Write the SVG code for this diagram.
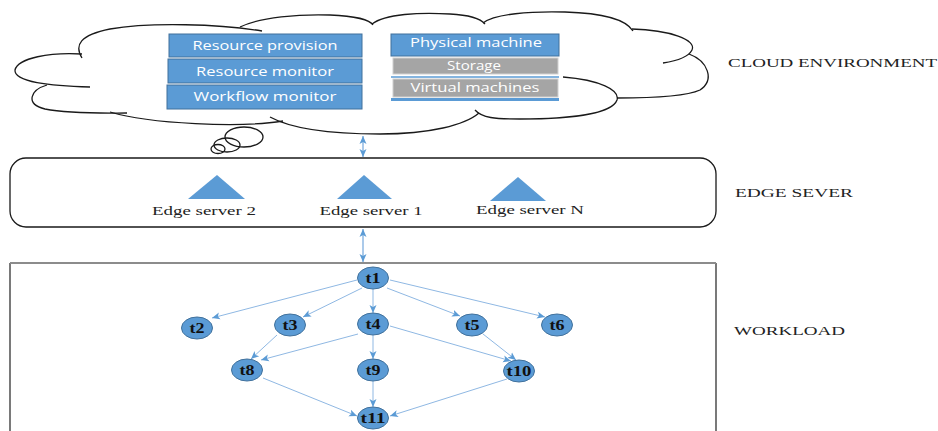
<svg xmlns="http://www.w3.org/2000/svg" width="938" height="431" viewBox="0 0 938 431">
<style>
.cloud{fill:none;stroke:#1a1a1a;stroke-width:1.3}
.box{fill:#5b9bd5;stroke:#41719c;stroke-width:1}
.gbox{fill:#a5a5a5;stroke:#d0d0d0;stroke-width:1}
.bt{font-family:"Open Sans","Liberation Sans",sans-serif;font-size:12.5px;fill:#ffffff;text-anchor:middle}
.lbl{font-family:"Liberation Serif","Times New Roman",serif;font-size:13px;fill:#222;text-anchor:middle}
.side{font-family:"Liberation Serif","Times New Roman",serif;font-size:13px;fill:#222}
.tri{fill:#5b9bd5}
.node{fill:#5b9bd5;stroke:#41719c;stroke-width:1}
.nt{font-family:"Liberation Serif","Times New Roman",serif;font-size:14.5px;font-weight:bold;fill:#111;text-anchor:middle}
.edge{stroke:#8fb8e3;stroke-width:1;fill:none;marker-end:url(#ah)}
.dbl{stroke:#8fb8e3;stroke-width:1.5;fill:none;marker-start:url(#ahs);marker-end:url(#ah)}
</style>
<defs>
<marker id="ah" markerUnits="userSpaceOnUse" markerWidth="9" markerHeight="8" refX="8" refY="4" orient="auto">
<path d="M0,0.5 L8,4 L0,7.5 L2,4 z" fill="#5b9bd5"/>
</marker>
<marker id="ahs" markerUnits="userSpaceOnUse" markerWidth="9" markerHeight="8" refX="0" refY="4" orient="auto">
<path d="M8,0.5 L0,4 L8,7.5 L6,4 z" fill="#5b9bd5"/>
</marker>
</defs>
<g id="cloud">
<path class="cloud" d="M82,58 C74,45 80,35 110,29 C150,22 220,24 262,31"/>
<path class="cloud" d="M240,27 C260,17 300,14 330,15 C355,16 370,20 373,25"/>
<path class="cloud" d="M372,24 C385,14 420,12 450,14 C470,15 480,18 485,24"/>
<path class="cloud" d="M483,23 C495,14 530,11 565,12 C600,13 625,18 633,31"/>
<path class="cloud" d="M632,29 C670,30 697,40 692,50 C688,58 676,61 663,63"/>
<path class="cloud" d="M689,54 C708,61 715,80 700,90 C685,97 650,98 617,98"/>
<path class="cloud" d="M563,77 C600,80 620,90 617,100 C612,114 570,119 520,119 C495,119 482,118 475,110"/>
<path class="cloud" d="M479,113 C465,125 430,134 380,134 C330,134 290,128 270,117"/>
<path class="cloud" d="M283,121 C240,128 150,124 110,112"/>
<path class="cloud" d="M47,85 C30,90 25,104 45,109 C70,114 105,113 127,113"/>
<path class="cloud" d="M82,54 C50,52 18,58 15,70 C14,82 50,86 90,87"/>
<ellipse class="cloud" cx="244" cy="137" rx="19" ry="10"/>
<ellipse class="cloud" cx="227" cy="145" rx="13" ry="7"/>
<ellipse class="cloud" cx="218" cy="149" rx="7" ry="4.5"/>
</g>
<g id="resource-provision">
<rect class="box" x="169" y="34" width="193" height="23"/>
<text class="bt" x="265" y="50" textLength="145" lengthAdjust="spacingAndGlyphs">Resource provision</text>
</g>
<g id="resource-monitor">
<rect class="box" x="168" y="59" width="194" height="24"/>
<text class="bt" x="265" y="76" textLength="138" lengthAdjust="spacingAndGlyphs">Resource monitor</text>
</g>
<g id="workflow-monitor">
<rect class="box" x="167" y="85" width="195" height="24"/>
<text class="bt" x="265" y="101" textLength="143" lengthAdjust="spacingAndGlyphs">Workflow monitor</text>
</g>
<g id="physical-machine">
<rect class="box" x="391" y="34" width="168" height="22"/>
<text class="bt" x="476" y="47" textLength="132" lengthAdjust="spacingAndGlyphs">Physical machine</text>
</g>
<g id="storage">
<rect class="gbox" x="393" y="58" width="165" height="16"/>
<text class="bt" x="474" y="70" textLength="54" lengthAdjust="spacingAndGlyphs">Storage</text>
<line x1="391" y1="77" x2="559" y2="77" stroke="#5b9bd5" stroke-width="1.5"/>
</g>
<g id="virtual-machines">
<rect class="gbox" x="393" y="79" width="165" height="18"/>
<text class="bt" x="475" y="92" textLength="129" lengthAdjust="spacingAndGlyphs">Virtual machines</text>
<rect x="391" y="98" width="168" height="3" fill="#5b9bd5"/>
</g>
<g id="cloud-label">
<text class="side" x="728" y="67" textLength="209" lengthAdjust="spacingAndGlyphs">CLOUD ENVIRONMENT</text>
</g>
<g id="edge-layer">
<rect x="10" y="158" width="706" height="69" rx="16" ry="16" fill="none" stroke="#1a1a1a" stroke-width="1.3"/>
<text class="side" x="735" y="197" textLength="118" lengthAdjust="spacingAndGlyphs">EDGE SEVER</text>
</g>
<g id="edge-server-2">
<polygon class="tri" points="188,199 217,175 245,199"/>
<text class="lbl" x="204" y="215" textLength="104" lengthAdjust="spacingAndGlyphs">Edge server 2</text>
</g>
<g id="edge-server-1">
<polygon class="tri" points="337,199 364,175 392,199"/>
<text class="lbl" x="371" y="215" textLength="103" lengthAdjust="spacingAndGlyphs">Edge server 1</text>
</g>
<g id="edge-server-n">
<polygon class="tri" points="490,201 518,177 546,201"/>
<text class="lbl" x="530" y="214" textLength="108" lengthAdjust="spacingAndGlyphs">Edge server N</text>
</g>
<g id="workload-layer">
<path d="M10,431 V263 M716,263 V431" fill="none" stroke="#333" stroke-width="1.3"/>
<line x1="10" y1="263" x2="716" y2="263" stroke="#8c8c8c" stroke-width="2"/>
<text class="side" x="734" y="335" textLength="111" lengthAdjust="spacingAndGlyphs">WORKLOAD</text>
</g>
<g id="connectors">
<line class="dbl" x1="363" y1="136" x2="363" y2="157"/>
<line class="dbl" x1="363" y1="229" x2="363" y2="262"/>
<line class="edge" x1="357" y1="280" x2="212" y2="318"/>
<line class="edge" x1="362" y1="288" x2="303" y2="317"/>
<line class="edge" x1="373" y1="289" x2="373" y2="313"/>
<line class="edge" x1="387" y1="288" x2="460" y2="316"/>
<line class="edge" x1="390" y1="280" x2="545" y2="317"/>
<line class="edge" x1="277" y1="335" x2="251" y2="359"/>
<line class="edge" x1="358" y1="334" x2="261" y2="360"/>
<line class="edge" x1="373" y1="335" x2="373" y2="359"/>
<line class="edge" x1="390" y1="326" x2="511" y2="361"/>
<line class="edge" x1="483" y1="334" x2="516" y2="360"/>
<line class="edge" x1="263" y1="378" x2="357" y2="416"/>
<line class="edge" x1="373" y1="381" x2="373" y2="407"/>
<line class="edge" x1="507" y1="379" x2="390" y2="416"/>
</g>
<g id="t1"><ellipse class="node" cx="373" cy="278" rx="15.5" ry="11"/><text class="nt" x="373" y="283" textLength="15" lengthAdjust="spacingAndGlyphs">t1</text></g>
<g id="t2"><ellipse class="node" cx="197" cy="328" rx="15.5" ry="11"/><text class="nt" x="197" y="333" textLength="15" lengthAdjust="spacingAndGlyphs">t2</text></g>
<g id="t3"><ellipse class="node" cx="290" cy="325" rx="15.5" ry="11"/><text class="nt" x="290" y="330" textLength="15" lengthAdjust="spacingAndGlyphs">t3</text></g>
<g id="t4"><ellipse class="node" cx="373" cy="324" rx="15.5" ry="11"/><text class="nt" x="373" y="329" textLength="15" lengthAdjust="spacingAndGlyphs">t4</text></g>
<g id="t5"><ellipse class="node" cx="472" cy="325" rx="15.5" ry="11"/><text class="nt" x="472" y="330" textLength="15" lengthAdjust="spacingAndGlyphs">t5</text></g>
<g id="t6"><ellipse class="node" cx="557" cy="325" rx="15.5" ry="11"/><text class="nt" x="557" y="330" textLength="15" lengthAdjust="spacingAndGlyphs">t6</text></g>
<g id="t8"><ellipse class="node" cx="247" cy="370" rx="15.5" ry="11"/><text class="nt" x="247" y="375" textLength="15" lengthAdjust="spacingAndGlyphs">t8</text></g>
<g id="t9"><ellipse class="node" cx="373" cy="370" rx="15.5" ry="11"/><text class="nt" x="373" y="375" textLength="15" lengthAdjust="spacingAndGlyphs">t9</text></g>
<g id="t10"><ellipse class="node" cx="519" cy="371" rx="15.5" ry="11"/><text class="nt" x="519" y="376" textLength="25" lengthAdjust="spacingAndGlyphs">t10</text></g>
<g id="t11"><ellipse class="node" cx="373" cy="418" rx="15.5" ry="11"/><text class="nt" x="373" y="423" textLength="25" lengthAdjust="spacingAndGlyphs">t11</text></g>
</svg>
